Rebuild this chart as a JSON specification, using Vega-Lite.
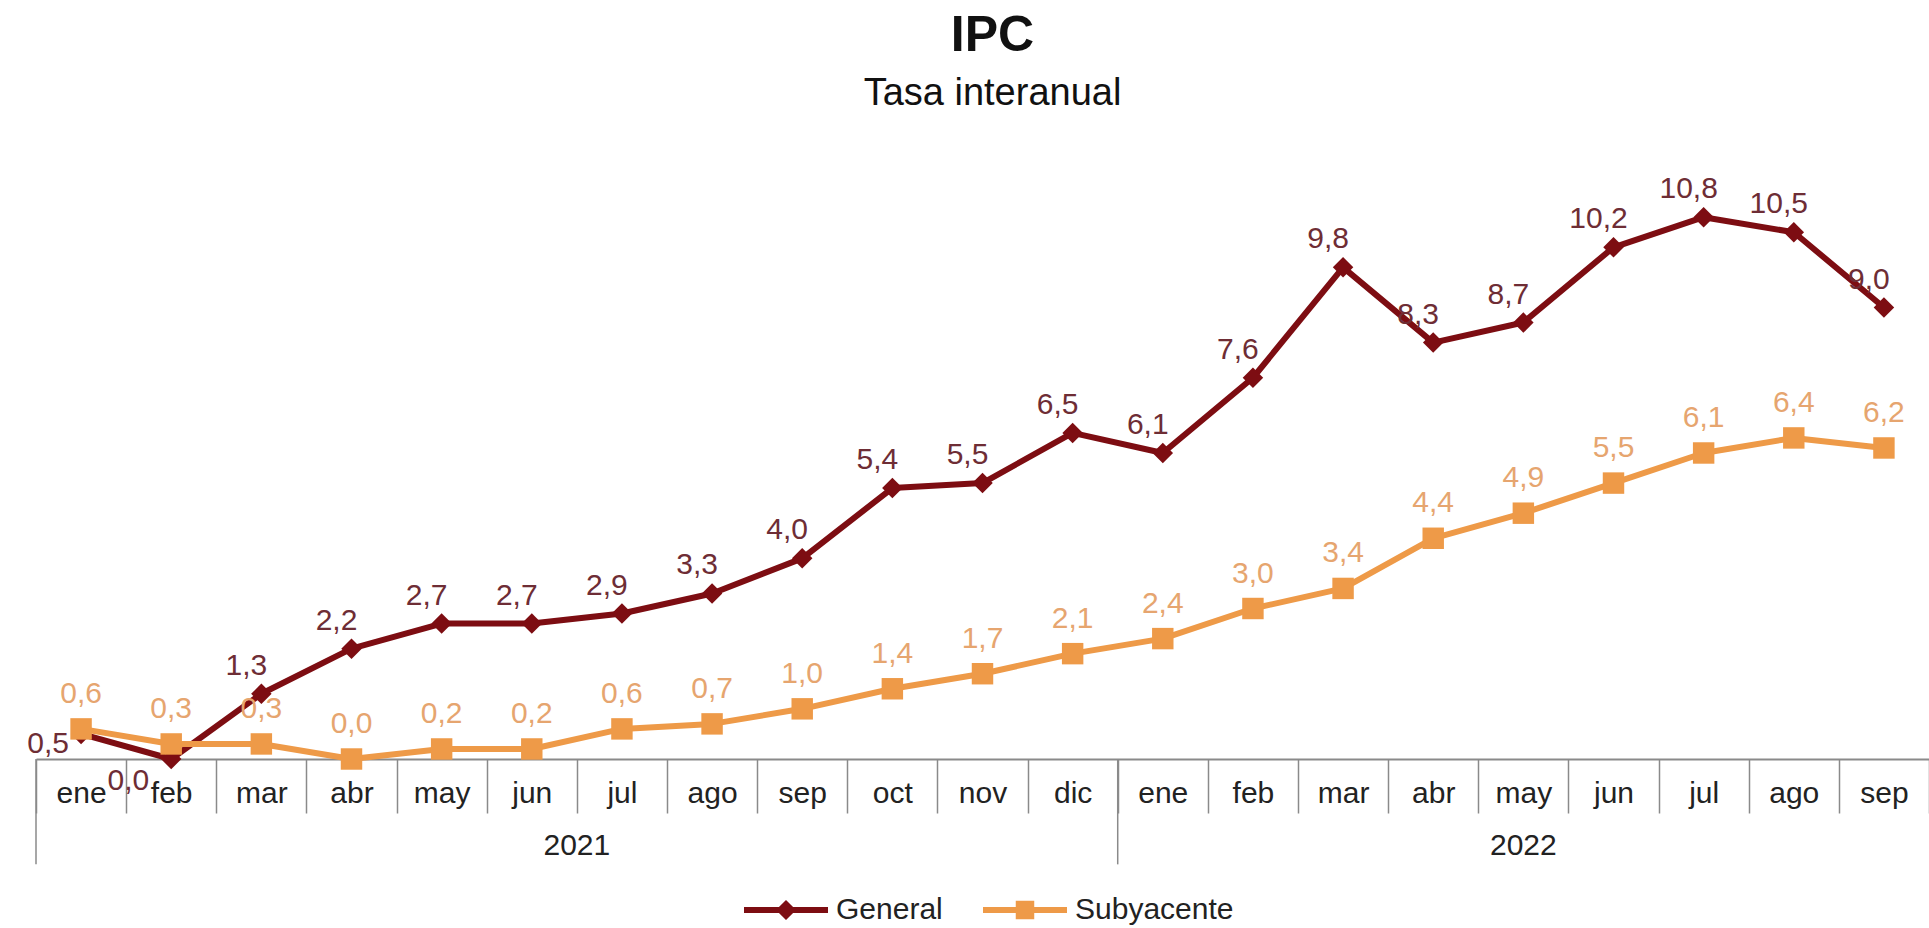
{
  "$schema": "https://vega.github.io/schema/vega-lite/v6.json",
  "autosize": "none",
  "width": 1893,
  "height": 602,
  "padding": {"left": 36, "top": 157, "right": 0, "bottom": 169},
  "background": "white",
  "config": {
    "view": {"stroke": null},
    "font": "Liberation Sans",
    "locale": {"number": {"decimal": ",", "thousands": ".", "grouping": [3], "currency": ["", " €"]}}
  },
  "title": {
    "text": "IPC",
    "subtitle": "Tasa interanual",
    "anchor": "middle",
    "dx": 10,
    "offset": 44,
    "fontSize": 50,
    "fontWeight": "bold",
    "color": "#111111",
    "subtitleFontSize": 38,
    "subtitleColor": "#111111",
    "subtitlePadding": 14,
    "font": "Liberation Sans",
    "subtitleFont": "Liberation Sans"
  },
  "datasets": {
    "ipc": [
      {"periodo": "ene 2021", "serie": "General", "valor": 0.5},
      {"periodo": "feb 2021", "serie": "General", "valor": 0.0},
      {"periodo": "mar 2021", "serie": "General", "valor": 1.3},
      {"periodo": "abr 2021", "serie": "General", "valor": 2.2},
      {"periodo": "may 2021", "serie": "General", "valor": 2.7},
      {"periodo": "jun 2021", "serie": "General", "valor": 2.7},
      {"periodo": "jul 2021", "serie": "General", "valor": 2.9},
      {"periodo": "ago 2021", "serie": "General", "valor": 3.3},
      {"periodo": "sep 2021", "serie": "General", "valor": 4.0},
      {"periodo": "oct 2021", "serie": "General", "valor": 5.4},
      {"periodo": "nov 2021", "serie": "General", "valor": 5.5},
      {"periodo": "dic 2021", "serie": "General", "valor": 6.5},
      {"periodo": "ene 2022", "serie": "General", "valor": 6.1},
      {"periodo": "feb 2022", "serie": "General", "valor": 7.6},
      {"periodo": "mar 2022", "serie": "General", "valor": 9.8},
      {"periodo": "abr 2022", "serie": "General", "valor": 8.3},
      {"periodo": "may 2022", "serie": "General", "valor": 8.7},
      {"periodo": "jun 2022", "serie": "General", "valor": 10.2},
      {"periodo": "jul 2022", "serie": "General", "valor": 10.8},
      {"periodo": "ago 2022", "serie": "General", "valor": 10.5},
      {"periodo": "sep 2022", "serie": "General", "valor": 9.0},
      {"periodo": "ene 2021", "serie": "Subyacente", "valor": 0.6},
      {"periodo": "feb 2021", "serie": "Subyacente", "valor": 0.3},
      {"periodo": "mar 2021", "serie": "Subyacente", "valor": 0.3},
      {"periodo": "abr 2021", "serie": "Subyacente", "valor": 0.0},
      {"periodo": "may 2021", "serie": "Subyacente", "valor": 0.2},
      {"periodo": "jun 2021", "serie": "Subyacente", "valor": 0.2},
      {"periodo": "jul 2021", "serie": "Subyacente", "valor": 0.6},
      {"periodo": "ago 2021", "serie": "Subyacente", "valor": 0.7},
      {"periodo": "sep 2021", "serie": "Subyacente", "valor": 1.0},
      {"periodo": "oct 2021", "serie": "Subyacente", "valor": 1.4},
      {"periodo": "nov 2021", "serie": "Subyacente", "valor": 1.7},
      {"periodo": "dic 2021", "serie": "Subyacente", "valor": 2.1},
      {"periodo": "ene 2022", "serie": "Subyacente", "valor": 2.4},
      {"periodo": "feb 2022", "serie": "Subyacente", "valor": 3.0},
      {"periodo": "mar 2022", "serie": "Subyacente", "valor": 3.4},
      {"periodo": "abr 2022", "serie": "Subyacente", "valor": 4.4},
      {"periodo": "may 2022", "serie": "Subyacente", "valor": 4.9},
      {"periodo": "jun 2022", "serie": "Subyacente", "valor": 5.5},
      {"periodo": "jul 2022", "serie": "Subyacente", "valor": 6.1},
      {"periodo": "ago 2022", "serie": "Subyacente", "valor": 6.4},
      {"periodo": "sep 2022", "serie": "Subyacente", "valor": 6.2}
    ],
    "separadores": [
      {"periodo": "ene 2021"},
      {"periodo": "ene 2022"}
    ],
    "anio2021": [{"periodo": "jul 2021", "anio": "2021"}],
    "anio2022": [{"periodo": "may 2022", "anio": "2022"}]
  },
  "layer": [
    {
      "data": {"name": "ipc"},
      "transform": [{"filter": "datum.serie === 'General'"}],
      "mark": {"type": "line", "strokeWidth": 6, "strokeJoin": "round", "color": "#7d0d12"},
      "encoding": {
        "x": {
          "field": "periodo", "type": "ordinal", "sort": null,
          "scale": {
            "type": "band", "paddingInner": 0, "paddingOuter": 0,
            "domain": ["ene 2021","feb 2021","mar 2021","abr 2021","may 2021","jun 2021","jul 2021","ago 2021","sep 2021","oct 2021","nov 2021","dic 2021","ene 2022","feb 2022","mar 2022","abr 2022","may 2022","jun 2022","jul 2022","ago 2022","sep 2022"]
          },
          "axis": {
            "title": null,
            "labelExpr": "isString(datum.value) ? split(datum.value, ' ')[0] : ''",
            "tickBand": "extent",
            "tickSize": 54,
            "tickColor": "#8a8a8a",
            "tickWidth": 1.5,
            "domainColor": "#8a8a8a",
            "domainWidth": 2,
            "labelFontSize": 30,
            "labelFont": "Liberation Sans",
            "labelColor": "#222222",
            "labelBaseline": "middle",
            "labelPadding": -20,
            "labelAngle": 0,
            "labelOverlap": false,
            "labelBound": false,
            "grid": false
          }
        },
        "y": {
          "field": "valor", "type": "quantitative",
          "scale": {"domain": [0, 12], "nice": false, "zero": false},
          "axis": null
        }
      }
    },
    {
      "data": {"name": "ipc"},
      "transform": [{"filter": "datum.serie === 'Subyacente'"}],
      "mark": {"type": "line", "strokeWidth": 6, "strokeJoin": "round", "color": "#ee9a48"},
      "encoding": {
        "x": {"field": "periodo", "type": "ordinal", "sort": null},
        "y": {"field": "valor", "type": "quantitative"}
      }
    },
    {
      "data": {"name": "ipc"},
      "transform": [{"filter": "datum.serie === 'General'"}],
      "mark": {"type": "point", "filled": true, "opacity": 1, "size": 420, "shape": "diamond", "color": "#7d0d12"},
      "encoding": {
        "x": {"field": "periodo", "type": "ordinal", "sort": null},
        "y": {"field": "valor", "type": "quantitative"}
      }
    },
    {
      "data": {"name": "ipc"},
      "transform": [{"filter": "datum.serie === 'Subyacente'"}],
      "mark": {"type": "point", "filled": true, "opacity": 1, "size": 460, "shape": "square", "color": "#ee9a48"},
      "encoding": {
        "x": {"field": "periodo", "type": "ordinal", "sort": null},
        "y": {"field": "valor", "type": "quantitative"}
      }
    },
    {
      "data": {"name": "ipc"},
      "transform": [{"filter": "false"}],
      "mark": {"type": "point", "filled": true, "opacity": 1, "size": 10},
      "encoding": {
        "x": {"field": "periodo", "type": "ordinal", "sort": null},
        "y": {"field": "valor", "type": "quantitative"},
        "color": {
          "field": "serie", "type": "nominal",
          "scale": {"domain": ["General", "Subyacente"], "range": ["#7d0d12", "#ee9a48"]},
          "legend": {
            "title": null,
            "orient": "none",
            "direction": "horizontal",
            "legendX": 708,
            "legendY": 711,
            "padding": 0,
            "symbolSize": 7056,
            "symbolOpacity": 1,
            "symbolStrokeWidth": 0,
            "labelFontSize": 30,
            "labelFont": "Liberation Sans",
            "labelColor": "#222222",
            "labelOffset": 8,
            "columnPadding": 40
          }
        },
        "shape": {
          "field": "serie", "type": "nominal",
          "scale": {
            "domain": ["General", "Subyacente"],
            "range": [
              "M-1,-0.071H1V0.071H-1Z M0,-0.24L0.24,0L0,0.24L-0.24,0Z",
              "M-1,-0.071H1V0.071H-1Z M-0.22,-0.22H0.22V0.22H-0.22Z"
            ]
          }
        }
      }
    },
    {
      "data": {"name": "ipc"},
      "transform": [{"filter": "datum.serie === 'General' && datum.periodo !== 'ene 2021' && datum.periodo !== 'feb 2021'"}],
      "mark": {"type": "text", "dx": -15, "dy": -28, "fontSize": 30, "font": "Liberation Sans", "color": "#6e2d35", "baseline": "middle"},
      "encoding": {
        "x": {"field": "periodo", "type": "ordinal", "sort": null},
        "y": {"field": "valor", "type": "quantitative"},
        "text": {"field": "valor", "type": "quantitative", "format": ".1f"}
      }
    },
    {
      "data": {"name": "ipc"},
      "transform": [{"filter": "datum.serie === 'General' && datum.periodo === 'ene 2021'"}],
      "mark": {"type": "text", "dx": -12, "dy": 10, "align": "right", "fontSize": 30, "font": "Liberation Sans", "color": "#6e2d35", "baseline": "middle"},
      "encoding": {
        "x": {"field": "periodo", "type": "ordinal", "sort": null},
        "y": {"field": "valor", "type": "quantitative"},
        "text": {"field": "valor", "type": "quantitative", "format": ".1f"}
      }
    },
    {
      "data": {"name": "ipc"},
      "transform": [{"filter": "datum.serie === 'General' && datum.periodo === 'feb 2021'"}],
      "mark": {"type": "text", "dx": -22, "dy": 22, "align": "right", "fontSize": 30, "font": "Liberation Sans", "color": "#6e2d35", "baseline": "middle"},
      "encoding": {
        "x": {"field": "periodo", "type": "ordinal", "sort": null},
        "y": {"field": "valor", "type": "quantitative"},
        "text": {"field": "valor", "type": "quantitative", "format": ".1f"}
      }
    },
    {
      "data": {"name": "ipc"},
      "transform": [{"filter": "datum.serie === 'Subyacente'"}],
      "mark": {"type": "text", "dy": -35, "fontSize": 30, "font": "Liberation Sans", "color": "#e6a56f", "baseline": "middle"},
      "encoding": {
        "x": {"field": "periodo", "type": "ordinal", "sort": null},
        "y": {"field": "valor", "type": "quantitative"},
        "text": {"field": "valor", "type": "quantitative", "format": ".1f"}
      }
    },
    {
      "data": {"name": "separadores"},
      "mark": {"type": "rule", "color": "#8a8a8a", "strokeWidth": 1.5, "clip": false},
      "encoding": {
        "x": {"field": "periodo", "type": "ordinal", "sort": null, "bandPosition": 0},
        "y": {"datum": 0},
        "y2": {"datum": -2.1}
      }
    },
    {
      "data": {"name": "anio2021"},
      "mark": {"type": "text", "fontSize": 30, "font": "Liberation Sans", "color": "#222222", "baseline": "middle"},
      "encoding": {
        "x": {"field": "periodo", "type": "ordinal", "sort": null, "bandPosition": 0},
        "y": {"datum": -1.73},
        "text": {"field": "anio", "type": "nominal"}
      }
    },
    {
      "data": {"name": "anio2022"},
      "mark": {"type": "text", "fontSize": 30, "font": "Liberation Sans", "color": "#222222", "baseline": "middle"},
      "encoding": {
        "x": {"field": "periodo", "type": "ordinal", "sort": null, "bandPosition": 0.5},
        "y": {"datum": -1.73},
        "text": {"field": "anio", "type": "nominal"}
      }
    }
  ]
}
